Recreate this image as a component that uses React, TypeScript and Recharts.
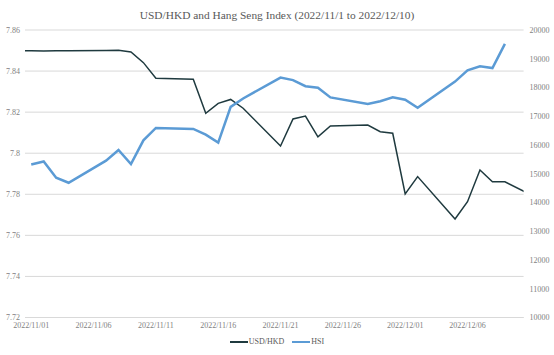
import React from "react";
import { LineChart, Line, XAxis, YAxis, CartesianGrid } from "recharts";

// USD/HKD fixing (includes the days just outside the window, clipped by the axis)
const usdDates = [
  "2022/10/31",
  "2022/11/01", "2022/11/02", "2022/11/03", "2022/11/04", "2022/11/07", "2022/11/08", "2022/11/09",
  "2022/11/10", "2022/11/11", "2022/11/14", "2022/11/15", "2022/11/16", "2022/11/17", "2022/11/18",
  "2022/11/21", "2022/11/22", "2022/11/23", "2022/11/24", "2022/11/25", "2022/11/28", "2022/11/29",
  "2022/11/30", "2022/12/01", "2022/12/02", "2022/12/05", "2022/12/06", "2022/12/07", "2022/12/08",
  "2022/12/09", "2022/12/12",
];
const usdHkd = [
  7.8499,
  7.8499, 7.8498, 7.8499, 7.8499, 7.85, 7.8501, 7.8493,
  7.8441, 7.8365, 7.836, 7.8194, 7.8243, 7.8262, 7.8219,
  7.8035, 7.8167, 7.8181, 7.808, 7.8133, 7.8137, 7.8105,
  7.8097, 7.7802, 7.7886, 7.768, 7.7764, 7.7918, 7.7861,
  7.7861, 7.777,
];

const hsiDates = [
  "2022/11/01", "2022/11/02", "2022/11/03", "2022/11/04", "2022/11/07", "2022/11/08", "2022/11/09",
  "2022/11/10", "2022/11/11", "2022/11/14", "2022/11/15", "2022/11/16", "2022/11/17", "2022/11/18",
  "2022/11/21", "2022/11/22", "2022/11/23", "2022/11/24", "2022/11/25", "2022/11/28", "2022/11/29",
  "2022/11/30", "2022/12/01", "2022/12/02", "2022/12/05", "2022/12/06", "2022/12/07", "2022/12/08",
  "2022/12/09",
];
const hsi = [
  15320, 15427, 14863, 14687, 15455, 15827, 15339,
  16161, 16595, 16557, 16358, 16081, 17326, 17619,
  18343, 18256, 18045, 17993, 17655, 17424, 17524,
  17660, 17573, 17297, 18204, 18597, 18736, 18675,
  19519,
];

const xTickLabels = [
  "2022/11/01", "2022/11/06", "2022/11/11", "2022/11/16",
  "2022/11/21", "2022/11/26", "2022/12/01", "2022/12/06",
];
const leftTicks = [7.72, 7.74, 7.76, 7.78, 7.8, 7.82, 7.84, 7.86];
const rightTicks = [10000, 11000, 12000, 13000, 14000, 15000, 16000, 17000, 18000, 19000, 20000];

const base = Date.UTC(2022, 10, 1);
const dayIndex = (s: string) => {
  const [y, m, d] = s.split("/").map(Number);
  return Math.round((Date.UTC(y, m - 1, d) - base) / 86400000);
};

const usdData = usdDates.map((d, i) => ({ day: dayIndex(d), usd: usdHkd[i] }));
const hsiData = hsiDates.map((d, i) => ({ day: dayIndex(d), hsi: hsi[i] }));
const xTicks = xTickLabels.map(dayIndex);
const labelFor = (v: number) => xTickLabels[xTicks.indexOf(v)] ?? "";

const font = '"Liberation Serif", "DejaVu Serif", serif';
const tickStyle = { fontSize: 8, fill: "#7f7f7f", fontFamily: font };

export default function App() {
  return (
    <div style={{ position: "absolute", left: 0, top: 0, width: 554, height: 355, background: "#fff" }}>
      <div
        style={{
          position: "absolute", top: 7, left: 0, width: 554, textAlign: "center",
          fontFamily: font, fontSize: 11.4, color: "#595959", lineHeight: "16px",
        }}
      >
        USD/HKD and Hang Seng Index (2022/11/1 to 2022/12/10)
      </div>
      <LineChart width={554} height={355} margin={{ top: 30, right: 0, bottom: 7.5, left: 0 }}>
        <CartesianGrid yAxisId="left" vertical={false} stroke="#d9d9d9" />
        <XAxis
          dataKey="day"
          type="number"
          domain={[-0.5, 39.5]}
          allowDataOverflow
          ticks={xTicks}
          tickFormatter={labelFor}
          height={30}
          axisLine={{ stroke: "#d9d9d9" }}
          tickLine={false}
          tickSize={0}
          tickMargin={5}
          tick={tickStyle}
          interval={0}
        />
        <YAxis
          yAxisId="left"
          width={25}
          domain={[7.72, 7.86]}
          ticks={leftTicks}
          tickFormatter={(v: number) => String(Number(v.toFixed(2)))}
          axisLine={false}
          tickLine={false}
          tickSize={0}
          tickMargin={5}
          tick={tickStyle}
          interval={0}
        />
        <YAxis
          yAxisId="right"
          orientation="right"
          width={30.4}
          domain={[10000, 20000]}
          ticks={rightTicks}
          axisLine={false}
          tickLine={false}
          tickSize={0}
          tickMargin={6}
          tick={{ ...tickStyle, textAnchor: "start" }}
          interval={0}
        />
        <Line
          yAxisId="left"
          data={usdData}
          dataKey="usd"
          name="USD/HKD"
          type="linear"
          stroke="#1f3a3f"
          strokeWidth={1.5}
          dot={false}
          isAnimationActive={false}
        />
        <Line
          yAxisId="right"
          data={hsiData}
          dataKey="hsi"
          name="HSI"
          type="linear"
          stroke="#5b9bd5"
          strokeWidth={2.5}
          dot={false}
          isAnimationActive={false}
        />
      </LineChart>
      <div
        style={{
          position: "absolute", top: 337, left: 0, width: 554, display: "flex",
          justifyContent: "center", alignItems: "center", gap: 8,
          fontFamily: font, fontSize: 8, color: "#595959",
        }}
      >
        <span style={{ display: "flex", alignItems: "center" }}>
          <span style={{ display: "inline-block", width: 18, height: 2, background: "#1f3a3f", marginRight: 1 }} />
          USD/HKD
        </span>
        <span style={{ display: "flex", alignItems: "center" }}>
          <span style={{ display: "inline-block", width: 18, height: 2, background: "#5b9bd5", marginRight: 1 }} />
          HSI
        </span>
      </div>
    </div>
  );
}
